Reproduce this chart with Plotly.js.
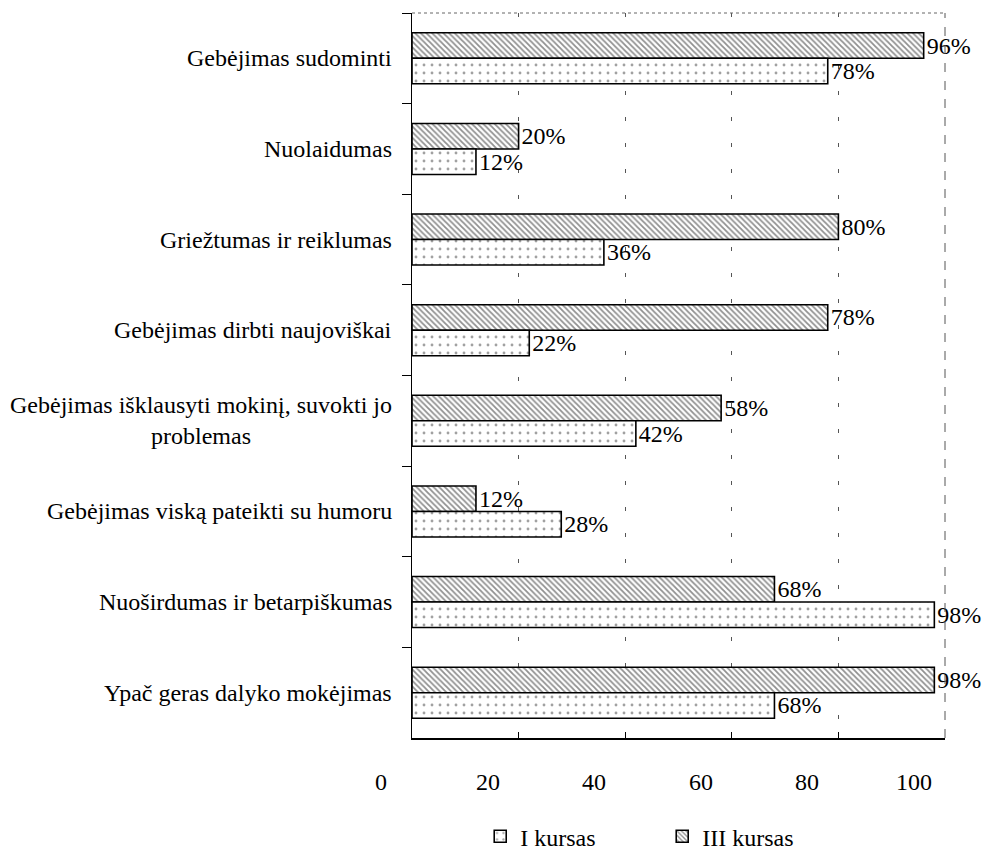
<!DOCTYPE html>
<html>
<head>
<meta charset="utf-8">
<script src="https://cdn.plot.ly/plotly-3.0.1.min.js"></script>
<style>html,body{margin:0;padding:0;background:#fff;}#chart{width:988px;height:850px;}</style>
</head>
<body>
<div id="chart"></div>
<script>
var categories = [
  "Gebėjimas sudominti",
  "Nuolaidumas",
  "Griežtumas ir reiklumas",
  "Gebėjimas dirbti naujoviškai",
  "Gebėjimas išklausyti mokinį, suvokti jo<br>problemas",
  "Gebėjimas viską pateikti su humoru",
  "Nuoširdumas ir betarpiškumas",
  "Ypač geras dalyko mokėjimas"
];
var kursasIII = [96, 20, 80, 78, 58, 12, 68, 98];
var kursasI = [78, 12, 36, 22, 42, 28, 98, 68];
var xTickValues = [0, 20, 40, 60, 80, 100];
var xTickLabels = ["0", "20", "40", "60", "80", "100"];
var seriesNames = ["III kursas", "I kursas"];

var FONT = "'Liberation Serif', 'Times New Roman', serif";

var traces = [
  {
    type: "bar", orientation: "h", name: seriesNames[0],
    y: categories, x: kursasIII,
    texttemplate: "%{x}%", textposition: "outside", cliponaxis: false,
    constraintext: "none",
    textfont: {family: FONT, size: 24, color: "#000"},
    legendrank: 2,
    marker: {
      color: "#ffffff",
      line: {color: "#000", width: 1.6},
      pattern: {shape: "\\", size: 4, solidity: 0.45, fgcolor: "#222", bgcolor: "#fff", fillmode: "overlay"}
    },
    hoverinfo: "skip"
  },
  {
    type: "bar", orientation: "h", name: seriesNames[1],
    y: categories, x: kursasI,
    texttemplate: "%{x}%", textposition: "outside", cliponaxis: false,
    constraintext: "none",
    textfont: {family: FONT, size: 24, color: "#000"},
    legendrank: 1,
    marker: {
      color: "#ffffff",
      line: {color: "#000", width: 1.6},
      pattern: {shape: ".", size: 8, solidity: 0.1, fgcolor: "#444", bgcolor: "#fff", fillmode: "overlay"}
    },
    hoverinfo: "skip"
  }
];

var annotations = [];
// category labels (centered multi-line text, right edge near the axis)
categories.forEach(function (c) {
  annotations.push({
    xref: "paper", yref: "y", x: -0.034, y: c,
    xanchor: "right", yanchor: "middle", align: "center",
    text: c, showarrow: false,
    font: {family: FONT, size: 24, color: "#000"}
  });
});
// x tick labels (offset to the left as in the original scan)
var tickOffset = -5.8;
xTickValues.forEach(function (v, i) {
  annotations.push({
    xref: "paper", yref: "paper", x: (v + tickOffset) / 100, y: -0.061,
    xanchor: "center", yanchor: "middle",
    text: xTickLabels[i], showarrow: false,
    font: {family: FONT, size: 24, color: "#000"}
  });
});

var layout = {
  width: 988, height: 850,
  margin: {l: 412, r: 43, t: 13, b: 112, autoexpand: false},
  paper_bgcolor: "#fff", plot_bgcolor: "#fff",
  font: {family: FONT, size: 22, color: "#000"},
  barmode: "group", bargap: 0.437, bargroupgap: 0,
  showlegend: true,
  legend: {
    orientation: "h", x: 0.128, xanchor: "left", y: -0.136, yanchor: "middle",
    font: {family: FONT, size: 24, color: "#000"},
    itemwidth: 30, tracegroupgap: 0,
    entrywidth: 137, entrywidthmode: "pixels"
  },
  xaxis: {
    range: [0, 100], tickvals: xTickValues, showticklabels: false,
    showline: true, linecolor: "#000", linewidth: 1.5,
    ticks: "inside", ticklen: 6, tickcolor: "#000",
    showgrid: true, gridcolor: "#555", gridwidth: 1, griddash: "4px,22px",
    zeroline: false, fixedrange: true
  },
  yaxis: {
    type: "category", autorange: "reversed",
    showticklabels: false, tickson: "boundaries",
    ticks: "outside", ticklen: 9, tickcolor: "#000",
    showline: true, linecolor: "#000", linewidth: 1.5,
    showgrid: false, zeroline: false, fixedrange: true
  },
  shapes: [
    {type: "line", xref: "paper", yref: "paper", x0: 0, x1: 1, y0: 1, y1: 1,
     line: {color: "#666", width: 1, dash: "dot"}},
    {type: "line", xref: "paper", yref: "paper", x0: 1, x1: 1, y0: 0, y1: 1,
     line: {color: "#555", width: 1, dash: "dash"}}
  ],
  annotations: annotations
};

Plotly.newPlot("chart", traces, layout, {displayModeBar: false, staticPlot: true});
</script>
</body>
</html>
